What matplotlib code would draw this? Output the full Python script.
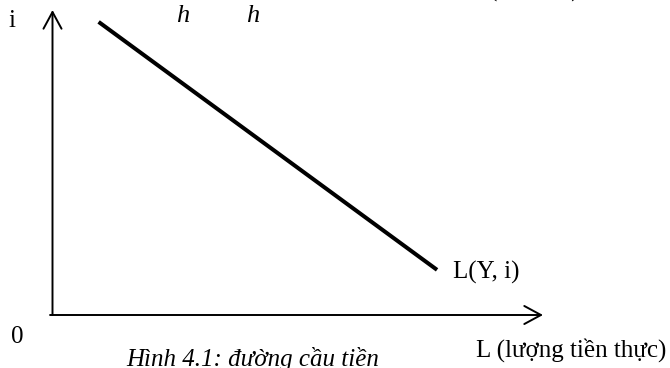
import matplotlib
matplotlib.use("Agg")
import matplotlib.pyplot as plt
from matplotlib.patches import FancyArrowPatch

plt.rcParams['font.family'] = ['Liberation Serif', 'DejaVu Serif']

# Data (demand for money curve L(Y, i))
L_vals = [0.94, 7.84]
i_vals = [9.61, 1.48]
x_max = 10.0
y_max = 10.0

W, H = 670, 368
fig = plt.figure(figsize=(W / 100, H / 100), dpi=100)
ax = fig.add_axes([52.5 / W, (H - 315) / H, (543 - 52.5) / W, (315 - 10) / H])
ax.set_xlim(0, x_max)
ax.set_ylim(0, y_max)
ax.axis('off')

# Axes arrows
style = '->,head_length=12,head_width=6.5'
ax.add_patch(FancyArrowPatch((-0.05, 0), (x_max, 0), arrowstyle=style,
                             mutation_scale=1, lw=1.4, color='black',
                             shrinkA=0, shrinkB=0, clip_on=False))
ax.add_patch(FancyArrowPatch((0, 0), (0, y_max), arrowstyle=style,
                             mutation_scale=1, lw=1.4, color='black',
                             shrinkA=0, shrinkB=0, clip_on=False))

# Demand curve
ax.plot(L_vals, i_vals, color='black', lw=2.9, solid_capstyle='butt', clip_on=False)

fs = 18
def px(x, y):
    return x / W, 1 - y / H

fig.text(*px(8, 27), 'i', fontsize=fs, ha='left', va='baseline')
fig.text(*px(11, 343), '0', fontsize=fs, ha='left', va='baseline')
fig.text(*px(453, 279), 'L(Y, i)', fontsize=fs, ha='left', va='baseline')
fig.text(*px(666, 357), 'L (lượng tiền thực)', fontsize=fs, ha='right', va='baseline')
fig.text(*px(126, 366), 'Hình 4.1: đường cầu tiền', fontsize=fs, style='italic',
         ha='left', va='baseline')
fig.text(*px(176, 22), 'h', fontsize=fs + 1, style='italic', ha='left', va='baseline')
fig.text(*px(246, 22), 'h', fontsize=fs + 1, style='italic', ha='left', va='baseline')
fig.text(*px(489, -3), '(Y, i + h)', fontsize=fs, ha='left', va='baseline')

fig.savefig('out.png', dpi=100, facecolor='white')
